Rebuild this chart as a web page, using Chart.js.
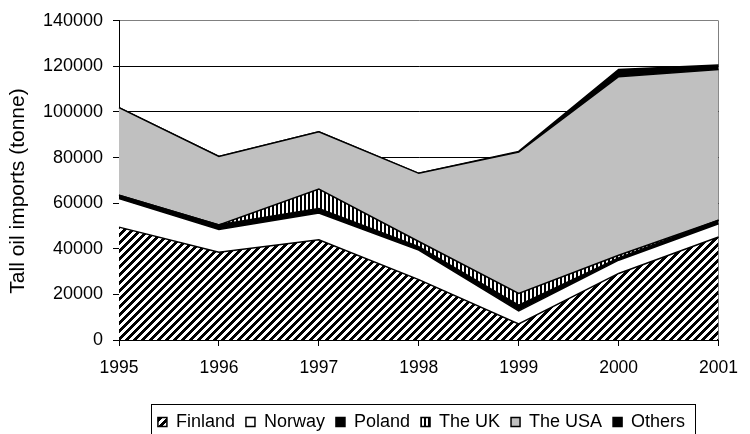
<!DOCTYPE html>
<html>
<head>
<meta charset="utf-8">
<title>Tall oil imports</title>
<script src="https://cdn.jsdelivr.net/npm/chart.js@4.4.1/dist/chart.umd.min.js"></script>
<style>
	html, body { margin: 0; padding: 0; background: #fff; }
	#wrap { width: 750px; height: 434px; }
</style>
</head>
<body>
<div id="wrap"><canvas id="canvas1" width="750" height="434"></canvas></div>
<script>
// values (tonne)
var years = ["1995", "1996", "1997", "1998", "1999", "2000", "2001"];
var finland = [49500, 38500, 44000, 26500, 7000, 29200, 45200];
var norway = [12500, 10000, 11700, 12900, 5800, 5800, 5800];
var poland = [1500, 2000, 2000, 1500, 2500, 1000, 1500];
var theUK = [0, 0, 8500, 2300, 5100, 1200, 0];
var theUSA = [38400, 30000, 25100, 29900, 62000, 78300, 66100];
var others = [0, 0, 0, 0, 300, 3100, 2000];
var yTicks = [0, 20000, 40000, 60000, 80000, 100000, 120000, 140000];
var yTitle = "Tall oil imports (tonne)";

var Graphs = {

	font: "'Liberation Sans', Arial, sans-serif",

	init: function(){
		var ctx = document.getElementById("canvas1").getContext("2d");
		var patterns = Graphs.makePatterns(ctx);
		var graphValues = Graphs.setGraphValues(patterns);
		Graphs.generateGraph(ctx, graphValues);
	},

	makePatterns: function(ctx){
		// diagonal "/" hatch for Finland
		var c1 = document.createElement("canvas");
		c1.width = 8; c1.height = 8;
		var g1 = c1.getContext("2d");
		var img = g1.createImageData(8, 8);
		for (var y = 0; y < 8; y++) {
			for (var x = 0; x < 8; x++) {
				var v = ((x + y) % 8) < 4 ? 0 : 255;
				var i = (y * 8 + x) * 4;
				img.data[i] = v; img.data[i + 1] = v; img.data[i + 2] = v; img.data[i + 3] = 255;
			}
		}
		g1.putImageData(img, 0, 0);

		// vertical stripes for the UK
		var c2 = document.createElement("canvas");
		c2.width = 4; c2.height = 4;
		var g2 = c2.getContext("2d");
		g2.fillStyle = "#fff";
		g2.fillRect(0, 0, 4, 4);
		g2.fillStyle = "#000";
		g2.fillRect(0, 0, 2, 4);

		return {
			hatch: ctx.createPattern(c1, "repeat"),
			stripes: ctx.createPattern(c2, "repeat")
		};
	},

	setGraphValues: function(patterns){
		var series = [
			{ label: "Finland", data: finland, bg: patterns.hatch },
			{ label: "Norway", data: norway, bg: "#ffffff" },
			{ label: "Poland", data: poland, bg: "#000000" },
			{ label: "The UK", data: theUK, bg: patterns.stripes },
			{ label: "The USA", data: theUSA, bg: "#c0c0c0" },
			{ label: "Others", data: others, bg: "#000000" }
		];

		return {
			labels: years,
			datasets: series.map(function(s, i){
				return {
					label: s.label,
					data: s.data,
					backgroundColor: s.bg,
					borderColor: "#000",
					borderWidth: 1.5,
					fill: i === 0 ? "origin" : "-1",
					pointRadius: 0,
					tension: 0
				};
			})
		};
	},

	generateGraph: function(ctx, graphValues){
		// shifts the legend to where the original puts it, draws its frame and the axis title
		var extras = {
			id: "extras",
			afterLayout: function(chart){
				var lg = chart.legend;
				lg.left = 46.5;
				lg.right = 796.5;
				lg.top = 402;
				lg.bottom = 441;
			},
			afterDraw: function(chart){
				var lg = chart.legend;
				var pad = lg.options.labels.padding;
				var lw = lg.lineWidths[0];
				var start = (lg.left + pad + lg.right - lw) / 2;
				var l = Math.round(start - 7) + 0.5;
				var r = Math.round(start + lw - pad + 10) + 0.5;
				var c = chart.ctx;
				c.save();
				c.strokeStyle = "#000";
				c.lineWidth = 1;
				c.strokeRect(l, 404.5, r - l, 40);

				// y axis title, centred on the whole chart height like the original
				c.translate(18, 191);
				c.rotate(-Math.PI / 2);
				c.fillStyle = "#000";
				c.font = "21px " + Graphs.font;
				c.textAlign = "center";
				c.textBaseline = "middle";
				c.fillText(yTitle, 0, 0);
				c.restore();
			}
		};

		Chart.defaults.color = "#000";
		Chart.defaults.font.family = Graphs.font;

		window.myArea = new Chart(ctx, {
			type: "line",
			data: graphValues,
			plugins: [extras],
			options: {
				responsive: false,
				animation: false,
				devicePixelRatio: 1,
				layout: {
					padding: { left: 0, right: 19, top: 20, bottom: 0 }
				},
				scales: {
					x: {
						grid: {
							color: function(c){ return c.index === years.length - 1 ? "#808080" : "rgba(0,0,0,0)"; },
							tickColor: "#000",
							tickLength: 6
						},
						border: { color: "#000", width: 1 },
						ticks: { font: { size: 17.5 }, padding: 12, maxRotation: 0 },
						afterFit: function(scale){ scale.height = 55; }
					},
					y: {
						stacked: true,
						min: yTicks[0],
						max: yTicks[yTicks.length - 1],
						grid: {
							color: function(c){ return c.tick && c.tick.value === yTicks[yTicks.length - 1] ? "#808080" : "#000"; },
							tickColor: "#000",
							tickLength: 6
						},
						border: { color: "#000", width: 1 },
						ticks: {
							stepSize: yTicks[1] - yTicks[0],
							font: { size: 18 },
							padding: 10,
							callback: function(v){ return String(v); }
						},
						afterFit: function(scale){ scale.width = 119; }
					}
				},
				plugins: {
					legend: {
						position: "bottom",
						labels: {
							boxWidth: 9,
							boxHeight: 9,
							padding: 11,
							font: { size: 18 }
						}
					},
					tooltip: { enabled: false },
					title: { display: false, text: "" }
				}
			}
		});
	}
};

Graphs.init();
</script>
</body>
</html>
